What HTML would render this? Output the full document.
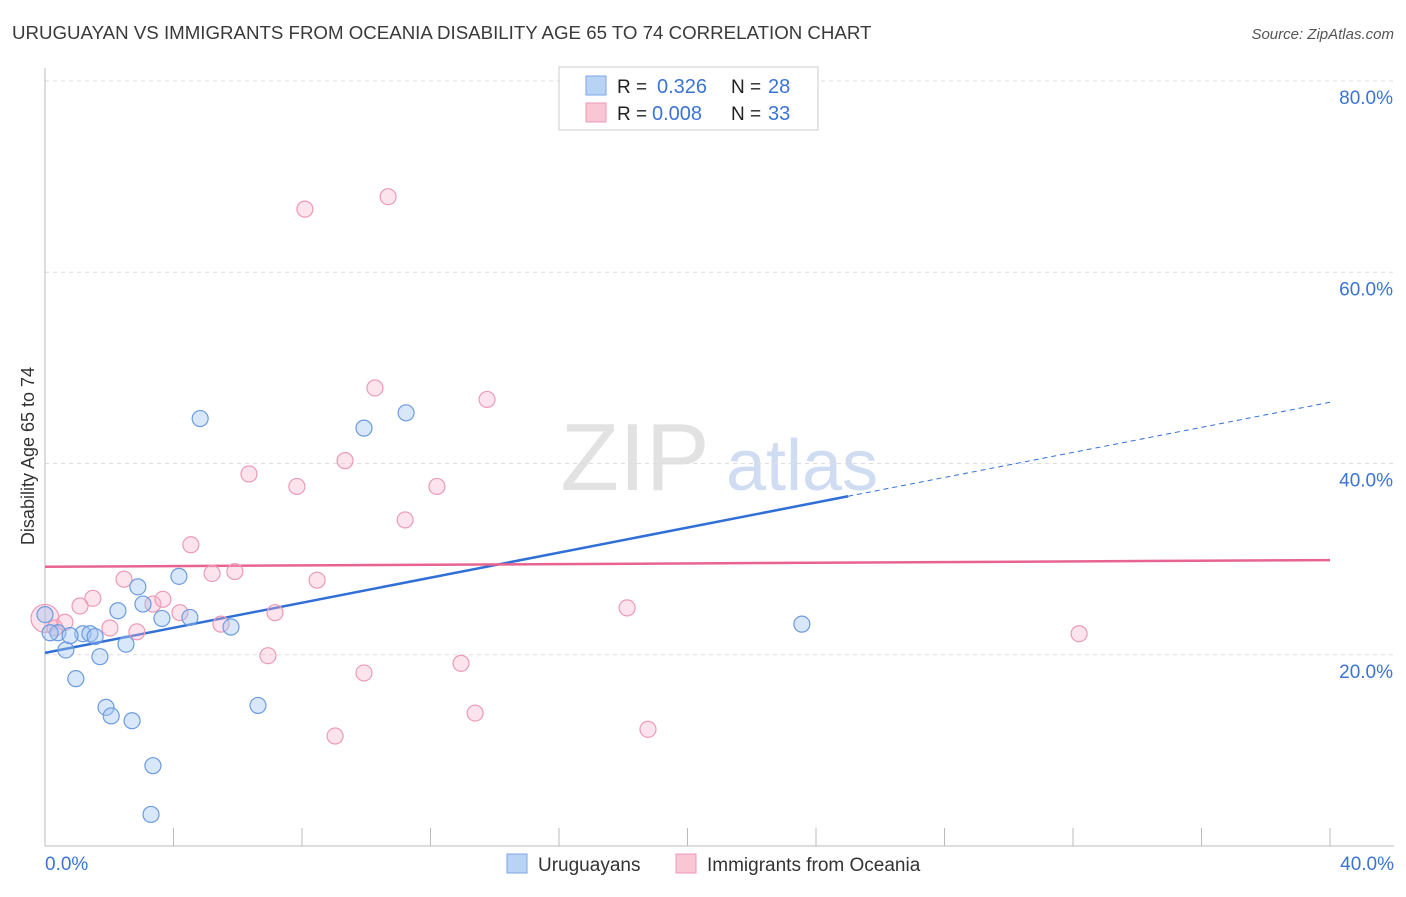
<!DOCTYPE html>
<html><head><meta charset="utf-8"><style>
body{margin:0;background:#fff;font-family:"Liberation Sans",sans-serif;}
svg text{font-family:"Liberation Sans",sans-serif;}
</style></head><body>
<svg id="chart" width="1406" height="892">
<text x="12" y="39" font-size="18.7" fill="#3a3a3a">URUGUAYAN VS IMMIGRANTS FROM OCEANIA DISABILITY AGE 65 TO 74 CORRELATION CHART</text>
<text x="1394" y="39" font-size="15" fill="#555" font-style="italic" text-anchor="end">Source: ZipAtlas.com</text>
<text x="34" y="456" font-size="18" fill="#333" text-anchor="middle" transform="rotate(-90 34 456)">Disability Age 65 to 74</text>
<g><text x="635" y="490" font-size="96" fill="#e2e2e2" font-family="Liberation Serif" text-anchor="middle">ZIP</text><text x="802" y="490" font-size="72" fill="#cfdcf2" text-anchor="middle">atlas</text></g>
<g id="grid"></g><g id="axes"></g><g id="lines"></g><g id="pts"></g>
<g>
<rect x="559" y="67" width="259" height="63" fill="#fff" stroke="#ccc"/>
<rect x="586" y="76" width="20" height="19" fill="#b9d3f5" stroke="#7aa6e6"/>
<rect x="586" y="103" width="20" height="19" fill="#f9c6d6" stroke="#ec98b4"/>
<text x="617" y="93" font-size="19" fill="#222">R =</text>
<text x="657" y="93" font-size="20" fill="#3c74d4">0.326</text>
<text x="731" y="93" font-size="19" fill="#222">N =</text>
<text x="768" y="93" font-size="20" fill="#3c74d4">28</text>
<text x="617" y="120" font-size="19" fill="#222">R =</text>
<text x="652" y="120" font-size="20" fill="#3c74d4">0.008</text>
<text x="731" y="120" font-size="19" fill="#222">N =</text>
<text x="768" y="120" font-size="20" fill="#3c74d4">33</text>
</g>
<g>
<rect x="507" y="854" width="20" height="19" fill="#b9d3f5" stroke="#7aa6e6"/>
<text x="538" y="871" font-size="19" fill="#333">Uruguayans</text>
<rect x="676" y="854" width="20" height="19" fill="#f9c6d6" stroke="#ec98b4"/>
<text x="707" y="871" font-size="19" fill="#333">Immigrants from Oceania</text>
</g>
</svg>
<script>
const xTicks=[0,4,8,12,16,20,24,28,32,36,40];
const yTicks=[20,40,60,80];
const blueX=[0,0.40,0.65,0.96,1.18,1.40,1.56,1.71,1.90,2.06,2.27,2.52,2.71,2.89,3.05,3.36,3.30,3.64,4.17,4.51,4.83,5.79,6.63,9.93,11.24,23.56,0.16,0.78];
const blueY=[24.2,22.3,20.5,17.5,22.2,22.2,21.9,19.8,14.5,13.6,24.6,21.1,13.1,27.1,25.3,8.4,3.3,23.8,28.2,23.9,44.7,22.9,14.7,43.7,45.3,23.2,22.3,22.0];
const pinkX=[0,0.31,0.62,1.09,1.49,2.02,2.46,2.86,3.36,3.67,4.20,4.54,5.20,5.48,5.91,6.35,6.94,7.16,7.84,8.09,8.47,9.03,9.34,9.93,10.27,10.68,11.21,12.20,12.95,13.39,13.76,18.12,18.77,32.19];
const pinkY=[23.8,22.8,23.4,25.1,25.9,22.8,27.9,22.4,25.3,25.8,24.4,31.5,28.5,23.2,28.7,38.9,19.9,24.4,37.6,66.6,27.8,11.5,40.3,18.1,47.9,67.9,34.1,37.6,19.1,13.9,46.7,24.9,12.2,22.2];
const blueTrend=[20.2,46.4];
const pinkTrend=[29.2,29.9];
const X=v=>45+v*32.125, Y=v=>846-v*9.5625;
const NS="http://www.w3.org/2000/svg";
function mk(t,a,p){const e=document.createElementNS(NS,t);for(const k in a)e.setAttribute(k,a[k]);p.appendChild(e);return e;}
const grid=document.getElementById('grid'),axes=document.getElementById('axes'),lines=document.getElementById('lines'),pts=document.getElementById('pts');
yTicks.forEach(v=>{const l=mk('line',{x1:45,x2:1394,y1:Y(v),y2:Y(v),stroke:'#ddd','stroke-dasharray':'4 4'},grid);


const t=mk('text',{x:1393,y:Y(v)+23,'font-size':19,fill:'#3c74d4','text-anchor':'end'},axes);t.textContent=v.toFixed(1)+'%';

});
mk('line',{x1:45,x2:45,y1:68,y2:846,stroke:'#bbb'},axes);
mk('line',{x1:45,x2:1394,y1:846,y2:846,stroke:'#bbb'},axes);
xTicks.forEach(v=>{const l=mk('line',{x1:X(v),x2:X(v),y1:828,y2:846,stroke:'#bbb'},axes);

});
const t0=mk('text',{x:45,y:870,'font-size':19,fill:'#3c74d4'},axes);t0.textContent=xTicks[0].toFixed(1)+'%';


const t1=mk('text',{x:1394,y:870,'font-size':19,fill:'#3c74d4','text-anchor':'end'},axes);t1.textContent=xTicks[xTicks.length-1].toFixed(1)+'%';


const bAt=x=>blueTrend[0]+(blueTrend[1]-blueTrend[0])*x/40;
const bl=mk('line',{x1:X(0),y1:Y(bAt(0)),x2:X(25),y2:Y(bAt(25)),stroke:'#2f6fd6','stroke-width':2.5},lines);


const bd=mk('line',{x1:X(25),y1:Y(bAt(25)),x2:X(40),y2:Y(bAt(40)),stroke:'#2f6fd6','stroke-width':1,'stroke-dasharray':'5 4'},lines);


const pl=mk('line',{x1:X(0),y1:Y(pinkTrend[0]),x2:X(40),y2:Y(pinkTrend[1]),stroke:'#e8648f','stroke-width':2.5},lines);


pinkX.forEach((x,i)=>{const c=mk('circle',{cx:X(x),cy:Y(pinkY[i]),r:i==0?14:8,fill:'rgba(246,176,200,0.35)',stroke:'#ec9ab6','stroke-width':1.2},pts);

});
blueX.forEach((x,i)=>{const c=mk('circle',{cx:X(x),cy:Y(blueY[i]),r:8,fill:'rgba(160,196,242,0.4)',stroke:'#6b9be0','stroke-width':1.2},pts);

});
</script>
</body></html>
